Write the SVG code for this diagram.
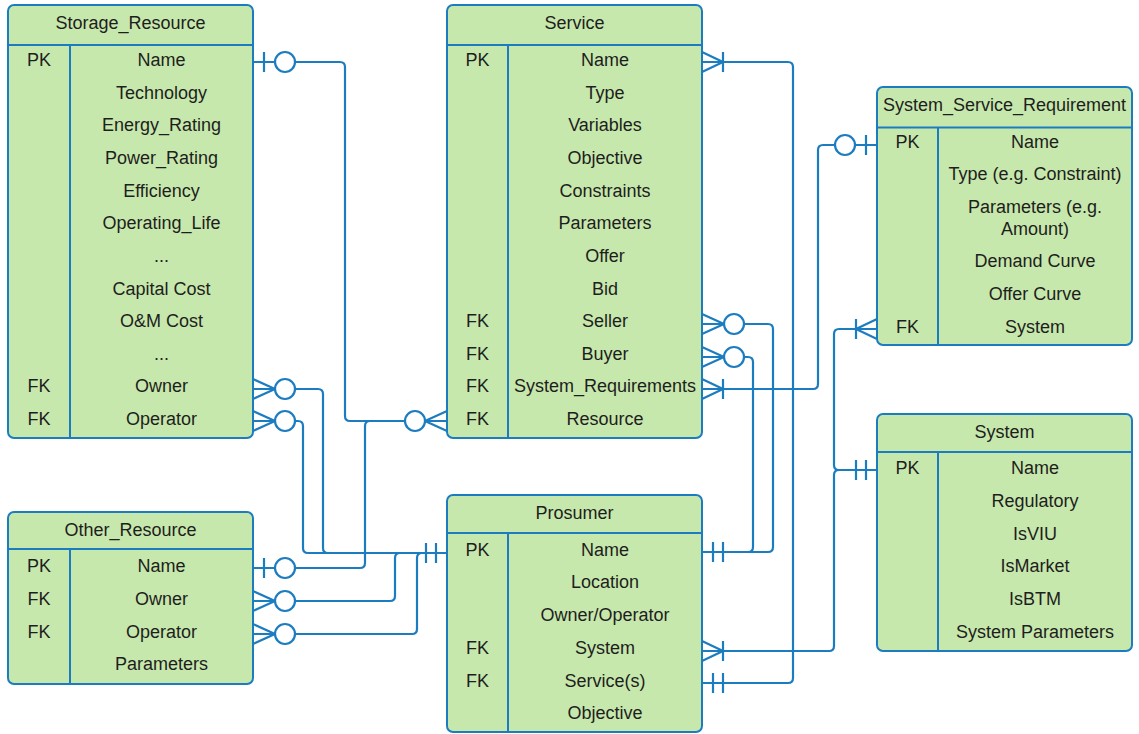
<svg xmlns="http://www.w3.org/2000/svg" width="1139" height="734" viewBox="0 0 1139 734">
  <style>
    .box { fill: #c7e8ac; stroke: #1c7cc0; stroke-width: 2; }
    .div { stroke: #1c7cc0; stroke-width: 2; fill: none; }
    .t { font-family: "Liberation Sans", Arial, sans-serif; font-size: 18px; fill: #1e1e1e; text-anchor: middle; }
    .ln { fill: none; stroke: #1c7cc0; stroke-width: 2.2; }
    .dec { fill: #ffffff; stroke: #1c7cc0; stroke-width: 2.2; }
  </style>
  <defs>
    <!-- end decorations; entity edge at x=0, line leaving towards +x -->
    <g id="zeroOne">
      <path class="ln" d="M11,-10 V10"/>
      <circle class="dec" cx="32" cy="0" r="10"/>
    </g>
    <g id="zeroMany">
      <path class="ln" d="M0,-10 L22,0 L0,10 M0,0 H22"/>
      <circle class="dec" cx="32" cy="0" r="10"/>
    </g>
    <g id="oneMany">
      <path class="ln" d="M0,-10 L21,0 L0,10 M0,0 H21 M21,-10 V10"/>
    </g>
    <g id="oneOne">
      <path class="ln" d="M11,-10 V10 M21,-10 V10"/>
    </g>
  </defs>

  <rect width="1139" height="734" fill="#ffffff"/>

  <!-- relationship lines -->
  <g id="connectors">
    <path class="ln" d="M253,62 H340 Q345,62 345,67 V416 Q345,421 350,421 H447"/>
    <path class="ln" d="M253,568 H360 Q365,568 365,563 V426 Q365,421 370,421"/>
    <path class="ln" d="M253,389 H318 Q323,389 323,394 V548 Q323,553 328,553 H447"/>
    <path class="ln" d="M253,421 H298 Q303,421 303,426 V548 Q303,553 308,553 H328"/>
    <path class="ln" d="M253,601 H390 Q395,601 395,596 V558 Q395,553 400,553"/>
    <path class="ln" d="M253,634 H412 Q417,634 417,629 V558 Q417,553 422,553"/>
    <path class="ln" d="M702,62 H788 Q793,62 793,67 V678 Q793,683 788,683 H702"/>
    <path class="ln" d="M702,324 H768 Q773,324 773,329 V547 Q773,552 768,552 H702"/>
    <path class="ln" d="M702,357 H748 Q753,357 753,362 V547 Q753,552 748,552"/>
    <path class="ln" d="M702,389 H813 Q818,389 818,384 V150 Q818,145 823,145 H877"/>
    <path class="ln" d="M877,329 H839 Q834,329 834,334 V465 Q834,470 839,470 H877"/>
    <path class="ln" d="M702,651 H829 Q834,651 834,646 V475 Q834,470 839,470"/>

    <use href="#zeroOne" transform="translate(253,62)"/>
    <use href="#zeroMany" transform="translate(447,421) scale(-1,1)"/>
    <use href="#zeroOne" transform="translate(253,568)"/>
    <use href="#zeroMany" transform="translate(253,389)"/>
    <use href="#zeroMany" transform="translate(253,421)"/>
    <use href="#zeroMany" transform="translate(253,601)"/>
    <use href="#zeroMany" transform="translate(253,634)"/>
    <use href="#oneOne" transform="translate(447,553) scale(-1,1)"/>
    <use href="#oneMany" transform="translate(702,62)"/>
    <use href="#oneOne" transform="translate(702,683)"/>
    <use href="#zeroMany" transform="translate(702,324)"/>
    <use href="#zeroMany" transform="translate(702,357)"/>
    <use href="#oneOne" transform="translate(702,552)"/>
    <use href="#oneMany" transform="translate(702,389)"/>
    <use href="#zeroOne" transform="translate(877,145) scale(-1,1)"/>
    <use href="#oneMany" transform="translate(877,329) scale(-1,1)"/>
    <use href="#oneOne" transform="translate(877,470) scale(-1,1)"/>
    <use href="#oneMany" transform="translate(702,651)"/>
  </g>

  <g id="storage_resource">
    <rect class="box" x="8" y="5" width="245" height="433" rx="6"/>
    <path class="div" d="M8,45 H253 M70,45 V438"/>
    <text class="t" x="130.5" y="29">Storage_Resource</text>
    <text class="t" x="39" y="66">PK</text>
    <text class="t" x="161.5" y="66">Name</text>
    <text class="t" x="161.5" y="99">Technology</text>
    <text class="t" x="161.5" y="131">Energy_Rating</text>
    <text class="t" x="161.5" y="164">Power_Rating</text>
    <text class="t" x="161.5" y="197">Efficiency</text>
    <text class="t" x="161.5" y="229">Operating_Life</text>
    <text class="t" x="161.5" y="262">...</text>
    <text class="t" x="161.5" y="295">Capital Cost</text>
    <text class="t" x="161.5" y="327">O&amp;M Cost</text>
    <text class="t" x="161.5" y="360">...</text>
    <text class="t" x="39" y="392">FK</text>
    <text class="t" x="161.5" y="392">Owner</text>
    <text class="t" x="39" y="425">FK</text>
    <text class="t" x="161.5" y="425">Operator</text>
  </g>

  <g id="service">
    <rect class="box" x="447" y="5" width="255" height="433" rx="6"/>
    <path class="div" d="M447,45 H702 M508,45 V438"/>
    <text class="t" x="574.5" y="29">Service</text>
    <text class="t" x="477.5" y="66">PK</text>
    <text class="t" x="605" y="66">Name</text>
    <text class="t" x="605" y="99">Type</text>
    <text class="t" x="605" y="131">Variables</text>
    <text class="t" x="605" y="164">Objective</text>
    <text class="t" x="605" y="197">Constraints</text>
    <text class="t" x="605" y="229">Parameters</text>
    <text class="t" x="605" y="262">Offer</text>
    <text class="t" x="605" y="295">Bid</text>
    <text class="t" x="477.5" y="327">FK</text>
    <text class="t" x="605" y="327">Seller</text>
    <text class="t" x="477.5" y="360">FK</text>
    <text class="t" x="605" y="360">Buyer</text>
    <text class="t" x="477.5" y="392">FK</text>
    <text class="t" x="605" y="392">System_Requirements</text>
    <text class="t" x="477.5" y="425">FK</text>
    <text class="t" x="605" y="425">Resource</text>
  </g>

  <g id="system_service_requirement">
    <rect class="box" x="877" y="87" width="255" height="258" rx="6"/>
    <path class="div" d="M877,127.5 H1132 M938,127.5 V345"/>
    <text class="t" x="1004.5" y="111">System_Service_Requirement</text>
    <text class="t" x="907.5" y="148">PK</text>
    <text class="t" x="1035" y="148">Name</text>
    <text class="t" x="1035" y="180">Type (e.g. Constraint)</text>
    <text class="t" x="1035" y="213">Parameters (e.g.</text>
    <text class="t" x="1035" y="235">Amount)</text>
    <text class="t" x="1035" y="267">Demand Curve</text>
    <text class="t" x="1035" y="300">Offer Curve</text>
    <text class="t" x="907.5" y="333">FK</text>
    <text class="t" x="1035" y="333">System</text>
  </g>

  <g id="system">
    <rect class="box" x="877" y="414" width="255" height="237" rx="6"/>
    <path class="div" d="M877,452 H1132 M938,452 V651"/>
    <text class="t" x="1004.5" y="438">System</text>
    <text class="t" x="907.5" y="474">PK</text>
    <text class="t" x="1035" y="474">Name</text>
    <text class="t" x="1035" y="507">Regulatory</text>
    <text class="t" x="1035" y="540">IsVIU</text>
    <text class="t" x="1035" y="572">IsMarket</text>
    <text class="t" x="1035" y="605">IsBTM</text>
    <text class="t" x="1035" y="638">System Parameters</text>
  </g>

  <g id="other_resource">
    <rect class="box" x="8" y="512" width="245" height="172" rx="6"/>
    <path class="div" d="M8,549 H253 M70,549 V684"/>
    <text class="t" x="130.5" y="536">Other_Resource</text>
    <text class="t" x="39" y="572">PK</text>
    <text class="t" x="161.5" y="572">Name</text>
    <text class="t" x="39" y="605">FK</text>
    <text class="t" x="161.5" y="605">Owner</text>
    <text class="t" x="39" y="638">FK</text>
    <text class="t" x="161.5" y="638">Operator</text>
    <text class="t" x="161.5" y="670">Parameters</text>
  </g>

  <g id="prosumer">
    <rect class="box" x="447" y="495" width="255" height="237" rx="6"/>
    <path class="div" d="M447,533 H702 M508,533 V732"/>
    <text class="t" x="574.5" y="519">Prosumer</text>
    <text class="t" x="477.5" y="556">PK</text>
    <text class="t" x="605" y="556">Name</text>
    <text class="t" x="605" y="588">Location</text>
    <text class="t" x="605" y="621">Owner/Operator</text>
    <text class="t" x="477.5" y="654">FK</text>
    <text class="t" x="605" y="654">System</text>
    <text class="t" x="477.5" y="687">FK</text>
    <text class="t" x="605" y="687">Service(s)</text>
    <text class="t" x="605" y="719">Objective</text>
  </g>
</svg>
